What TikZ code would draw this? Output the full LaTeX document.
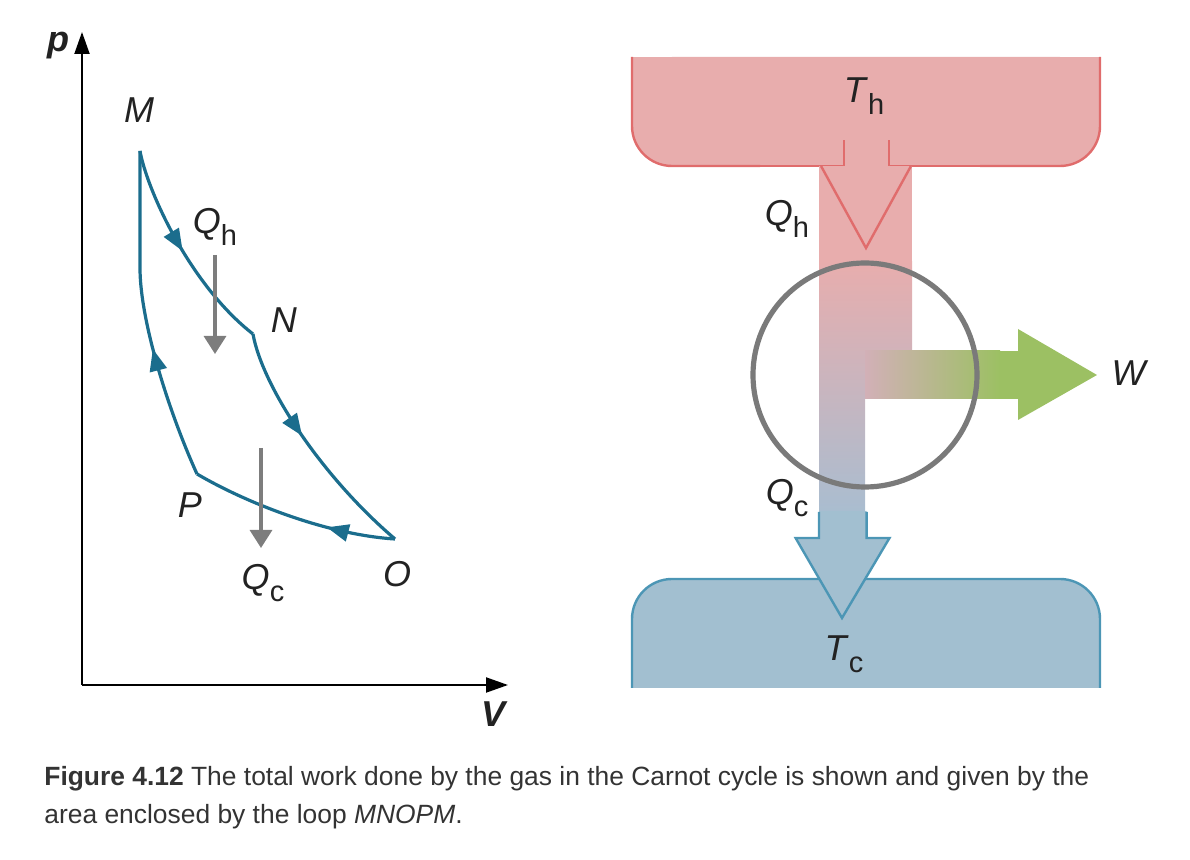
\documentclass[tikz,border=0pt]{standalone}
\usepackage{fontspec}
\setmainfont{Liberation Sans}
\usetikzlibrary{arrows.meta,decorations.markings}
\definecolor{hotfill}{HTML}{E8ADAD}
\definecolor{hotline}{HTML}{E06C6C}
\definecolor{coldfill}{HTML}{A2BFD0}
\definecolor{coldline}{HTML}{4C96B5}
\definecolor{wgreen}{HTML}{9CC063}
\definecolor{mauve}{HTML}{D2B0B7}
\definecolor{shaftlow}{HTML}{A9BDD0}
\definecolor{ringgray}{HTML}{7A7A7A}
\definecolor{cycblue}{HTML}{1B6D8D}
\definecolor{arrgray}{HTML}{7D7D7D}
\definecolor{captext}{HTML}{333333}
\definecolor{labtext}{HTML}{222222}
\newcommand\sublab[2]{\textit{#1}\raisebox{-0.32em}{\fontsize{14.5}{14.5}\selectfont #2}}
\tikzset{
  lab/.style={font=\fontsize{18}{18}\selectfont, text=labtext, inner sep=0pt},
  axisline/.style={line width=1pt, -{Triangle[length=11pt,width=7.5pt]}},
  cyc/.style={draw=cycblue, line width=1.6pt},
  midarrow/.style={postaction={decorate},
    decoration={markings, mark=at position #1 with {\arrow[cycblue]{Triangle[length=11pt,width=8.5pt]}}}},
  heatarrow/.style={draw=arrgray, line width=1.6pt, -{Triangle[length=9pt,width=11pt]}},
  capt/.style={font=\fontsize{13.2}{16}\selectfont, text=captext, inner sep=0pt, anchor=base west}
}
\begin{document}
\begin{tikzpicture}[x=0.5pt,y=-0.5pt]
\useasboundingbox (0,0) rectangle (1190,860);

% ---------- p-V diagram ----------
\coordinate (O0) at (82,685);
\coordinate (ptop) at (82,32);
\coordinate (vend) at (508,685);
\draw[axisline] (O0) -- (ptop);
\draw[axisline] (O0) -- (vend);
\node[lab, font=\fontsize{18}{18}\selectfont\bfseries\itshape] (plab) at (58,46) {p};
\node[lab, font=\fontsize{18}{18}\selectfont\bfseries\itshape] (vlab) at (494,714) {V};

\coordinate (M) at (140,151);
\coordinate (N) at (253,334);
\coordinate (O) at (395,539);
\coordinate (P) at (197,474);
\coordinate (Mb) at (140,268);

\draw[cyc, midarrow=0.5] (M) .. controls (147,190) and (190,285) .. (N);
\draw[cyc, midarrow=0.45] (N) .. controls (262,385) and (320,475) .. (O);
\draw[cyc, midarrow=0.33] (O) .. controls (330,535) and (250,505) .. (P);
\draw[cyc, midarrow=0.4] (P) .. controls (168,410) and (140,320) .. (Mb) -- (M);

\coordinate (g1s) at (215,255);
\coordinate (g1e) at (215,354);
\coordinate (g2s) at (261,448);
\coordinate (g2e) at (261,548);
\draw[heatarrow] (g1s) -- (g1e);
\draw[heatarrow] (g2s) -- (g2e);

\node[lab] (Mlab) at (139,110) {\textit{M}};
\node[lab] (Nlab) at (284,320) {\textit{N}};
\node[lab] (Olab) at (397,574) {\textit{O}};
\node[lab] (Plab) at (190,505) {\textit{P}};
\node[lab] (Qh1) at (215,227) {\sublab{Q}{h}};
\node[lab] (Qc1) at (263,583) {\sublab{Q}{c}};

% ---------- heat engine ----------
% hot reservoir
\fill[hotfill, rounded corners=20pt] (632,57) -- (632,166) -- (1100,166) -- (1100,57) -- cycle;
\fill[hotfill] (632,57) rectangle (1100,100);
\draw[hotline, line width=1.2pt, rounded corners=20pt] (632,57) -- (632,166) -- (760,166);
\draw[hotline, line width=1.2pt] (750,166) -- (844,166) -- (844,140);
\draw[hotline, line width=1.2pt, rounded corners=20pt] (1100,57) -- (1100,166) -- (980,166);
\draw[hotline, line width=1.2pt] (990,166) -- (889,166) -- (889,140);

% cold reservoir
\fill[coldfill, rounded corners=20pt] (632,688) -- (632,579) -- (1100,579) -- (1100,688) -- cycle;
\fill[coldfill] (632,640) rectangle (1100,688);
\draw[coldline, line width=1.2pt, rounded corners=20pt] (632,688) -- (632,579) -- (1100,579) -- (1100,688);

% shaft
\fill[hotfill] (819,166) rectangle (912,262);
\shade[top color=hotfill, bottom color=shaftlow] (819,261) -- (912,261) -- (912,351) -- (865,351) -- (865,513) -- (819,513) -- cycle;

% work arrow
\shade[left color=mauve, right color=wgreen] (865,351) rectangle (1000,399);
\fill[wgreen] (999,351) rectangle (1019,399);
\fill[wgreen] (1018,329) -- (1097,375) -- (1018,420) -- cycle;

% hot arrow head outline
\draw[hotline, line width=1.2pt, line join=miter] (821,166) -- (866,248) -- (911,166);

% cold arrow
\fill[coldfill] (819,511) -- (866.6,511) -- (866.6,538) -- (889.5,538) -- (842,618) -- (795.6,538) -- (819,538) -- cycle;
\draw[coldline, line width=1.2pt, line join=miter] (819,512) -- (819,538) -- (795.6,538) -- (842,618) -- (889.5,538) -- (866.6,538) -- (866.6,512);

% engine ring
\draw[ringgray, line width=2.6pt] (865,375) circle[radius=56pt];

\node[lab] (Th) at (864,96) {\sublab{T}{h}};
\node[lab] (Qh2) at (787,219) {\sublab{Q}{h}};
\node[lab] (Qc2) at (787,498) {\sublab{Q}{c}};
\node[lab] (Tc) at (844,654) {\sublab{T}{c}};
\node[lab] (W) at (1130,373) {\textit{W}};

% ---------- caption ----------
\node[capt] (cap1) at (44,786) {\textbf{Figure 4.12} The total work done by the gas in the Carnot cycle is shown and given by the};
\node[capt] (cap2) at (44,824) {area enclosed by the loop \textit{MNOPM}.};
\end{tikzpicture}
\end{document}
